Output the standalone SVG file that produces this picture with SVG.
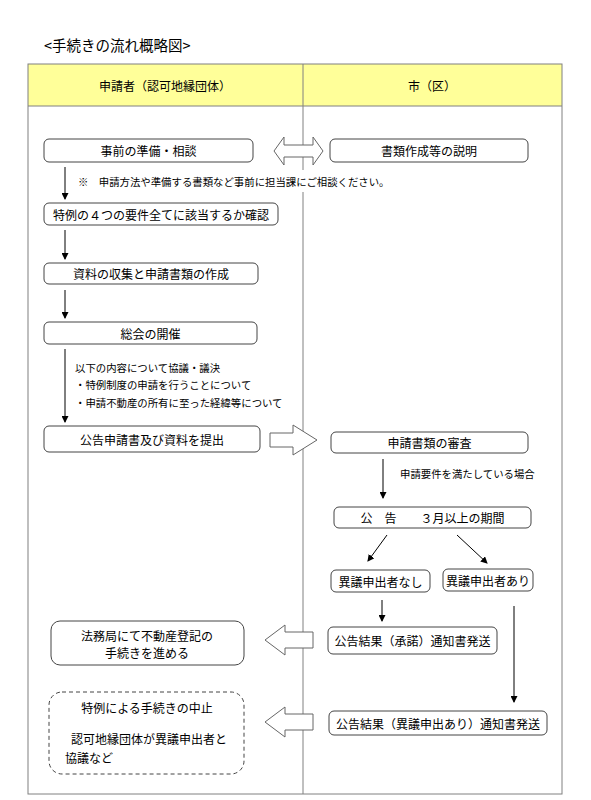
<svg xmlns="http://www.w3.org/2000/svg" width="591" height="800" viewBox="0 0 591 800">
<style>
text{font-family:"Noto Sans CJK JP","Liberation Sans",sans-serif;fill:#000}
.t{font-size:12px;text-anchor:middle;dominant-baseline:central}
.s{font-size:10.4px;dominant-baseline:central}
.box{fill:#fff;stroke:#444;stroke-width:1}
.blk{fill:#fff;stroke:#666;stroke-width:1}
.ln{stroke:#000;stroke-width:1;fill:none;marker-end:url(#ah)}
.frame{fill:none;stroke:#808080;stroke-width:1}
</style>
<defs>
<marker id="ah" markerWidth="7" markerHeight="7" refX="6" refY="3.5" orient="auto" markerUnits="userSpaceOnUse">
<path d="M0,0 L7,3.5 L0,7 Z" fill="#000"/>
</marker>
</defs>
<rect width="591" height="800" fill="#fff"/>
<text x="44" y="51" style="font-size:14.5px">&lt;手続きの流れ概略図&gt;</text>
<g id="frame">
<rect x="28" y="64" width="534" height="42" fill="#FFFF99"/>
<rect x="28" y="64" width="534" height="730" class="frame"/>
<line x1="28" y1="106" x2="562" y2="106" stroke="#808080"/>
<line x1="303" y1="64" x2="303" y2="794" stroke="#808080"/>
<text class="t" x="165" y="85">申請者（認可地縁団体）</text>
<text class="t" x="432" y="85">市（区）</text>
</g>
<rect x="70" y="170" width="330" height="22" fill="#fff"/>
<g id="connectors">
<path class="blk" d="M274,151 L284,137 L284,145 L313,145 L313,137 L323,151 L313,165 L313,157 L284,157 L284,165 Z"/>
<path class="blk" d="M270,433 L293,433 L293,425 L317,440 L293,455 L293,447 L270,447 Z"/>
<path class="blk" d="M265,640 L285,625 L285,632 L313,632 L313,648 L285,648 L285,655 Z"/>
<path class="blk" d="M265,722 L285,707 L285,714 L313,714 L313,730 L285,730 L285,737 Z"/>
<line class="ln" x1="65" y1="167" x2="65" y2="199"/>
<line class="ln" x1="65" y1="230" x2="65" y2="259"/>
<line class="ln" x1="65" y1="290" x2="65" y2="318"/>
<line class="ln" x1="65" y1="349" x2="65" y2="422"/>
<line class="ln" x1="383" y1="459" x2="383" y2="498"/>
<line class="ln" x1="387" y1="535" x2="368" y2="561"/>
<line class="ln" x1="457" y1="535" x2="487" y2="563"/>
<line class="ln" x1="382" y1="600" x2="382" y2="621"/>
<line class="ln" x1="514" y1="606" x2="514" y2="702"/>
</g>
<g id="n1"><rect class="box" x="44" y="139" width="209" height="23" rx="5"/><text class="t" x="148.5" y="150.5">事前の準備・相談</text></g>
<g id="n2"><rect class="box" x="330" y="139" width="198" height="23" rx="5"/><text class="t" x="429" y="150.5">書類作成等の説明</text></g>
<g id="note"><text class="s" x="78" y="181">※　申請方法や準備する書類など事前に担当課にご相談ください。</text></g>
<g id="n3"><rect class="box" x="44" y="203" width="234" height="22" rx="5"/><text class="t" x="161" y="214">特例の４つの要件全てに該当するか確認</text></g>
<g id="n4"><rect class="box" x="44" y="263" width="214" height="21" rx="5"/><text class="t" x="151" y="273.5">資料の収集と申請書類の作成</text></g>
<g id="n5"><rect class="box" x="44" y="322" width="213" height="22" rx="5"/><text class="t" x="150.5" y="333">総会の開催</text></g>
<g id="note2">
<text class="s" x="75" y="367">以下の内容について協議・議決</text>
<text class="s" x="75" y="384">・特例制度の申請を行うことについて</text>
<text class="s" x="75" y="402">・申請不動産の所有に至った経緯等について</text>
</g>
<g id="n6"><rect class="box" x="44" y="426" width="216" height="26" rx="5"/><text class="t" x="152" y="439">公告申請書及び資料を提出</text></g>
<g id="n7"><rect class="box" x="331" y="432" width="197" height="21" rx="5"/><text class="t" x="429.5" y="442.5">申請書類の審査</text></g>
<g id="note3"><text class="s" x="400" y="473">申請要件を満たしている場合</text></g>
<g id="n8"><rect class="box" x="334" y="507" width="197" height="21" rx="5"/><text class="t" x="432.5" y="517.5">公　告　　３月以上の期間</text></g>
<g id="n9"><rect class="box" x="331" y="570" width="99" height="22" rx="5"/><text class="t" x="380.5" y="581">異議申出者なし</text></g>
<g id="n10"><rect class="box" x="443" y="569" width="90" height="22" rx="5"/><text class="t" x="488" y="580">異議申出者あり</text></g>
<g id="n11"><rect class="box" x="51" y="621" width="193" height="44" rx="9"/><text class="t" x="147" y="635">法務局にて不動産登記の</text><text class="t" x="147" y="652">手続きを進める</text></g>
<g id="n12"><rect class="box" x="328" y="627" width="169" height="27" rx="5"/><text class="t" x="412.5" y="640.5">公告結果（承諾）通知書発送</text></g>
<g id="n13"><rect class="box" x="329" y="711" width="218" height="24" rx="5"/><text class="t" x="438" y="723">公告結果（異議申出あり）通知書発送</text></g>
<g id="n14"><rect x="49" y="692" width="195" height="82" rx="13" fill="#fff" stroke="#444" stroke-dasharray="4,3"/>
<text class="t" x="147" y="707">特例による手続きの中止</text>
<text class="t" x="71" y="738" style="text-anchor:start">認可地縁団体が異議申出者と</text>
<text class="t" x="65" y="757" style="text-anchor:start">協議など</text>
</g>
</svg>
